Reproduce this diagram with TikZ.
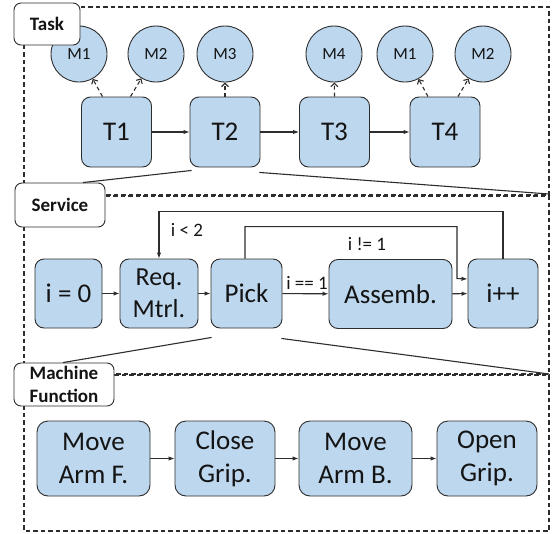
\documentclass[tikz,border=0pt]{standalone}
\usepackage{fontspec}
\setmainfont{Carlito}
\usetikzlibrary{arrows.meta,calc}
\definecolor{boxfill}{RGB}{189,215,238}
\definecolor{boxline}{RGB}{45,45,45}
\definecolor{txt}{RGB}{20,20,20}
\tikzset{
  blk/.style={draw=boxline,fill=boxfill,line width=0.9pt,inner sep=0pt,text=txt,align=center},
  tbox/.style={blk,rounded corners=9pt,minimum width=70pt,minimum height=70pt,font=\fontsize{27}{32}\selectfont},
  sbox/.style={blk,rounded corners=9pt,minimum height=69pt,font=\fontsize{27}{32}\selectfont},
  mbox/.style={blk,rounded corners=11pt,minimum height=75pt,font=\fontsize{27}{33}\selectfont},
  mcirc/.style={blk,circle,minimum size=56pt,font=\fontsize{17}{20}\selectfont},
  lbl/.style={draw=boxline,fill=white,line width=0.9pt,rounded corners=7pt,inner sep=0pt,align=center,text=txt,font=\fontsize{19}{23}\selectfont\bfseries},
  frame/.style={draw=boxline,line width=1.2pt,dash pattern=on 4.5pt off 3pt},
  flow/.style={draw=boxline,line width=1.1pt,-{Latex[length=6pt,width=4.5pt]}},
  dflow/.style={draw=boxline,line width=1.1pt,dash pattern=on 4pt off 3pt,-{Straight Barb[length=3.5pt,width=7pt]}},
  link/.style={draw=boxline,line width=1.1pt},
  elbl/.style={text=txt,font=\fontsize{19}{22}\selectfont,inner sep=0pt}
}
\begin{document}
\begin{tikzpicture}[x=1pt,y=-1pt]
\useasboundingbox (0,0) rectangle (554,533);
% frames
\draw[frame] (24,7) rectangle (549,195);
\draw[frame] (24,196) rectangle (549,374);
\draw[frame] (24,375) rectangle (549,531);
\coordinate (c1) at (549,194);
\coordinate (c2) at (549,374);

% Task level
\node[mcirc] (M1a) at (79,54) {M1};
\node[mcirc] (M2a) at (156,54) {M2};
\node[mcirc] (M3) at (225,54) {M3};
\node[mcirc] (M4) at (334,54) {M4};
\node[mcirc] (M1b) at (405,54) {M1};
\node[mcirc] (M2b) at (483,54) {M2};
\node[tbox] (T1) at (116.5,132) {T1};
\node[tbox] (T2) at (225,132) {T2};
\node[tbox] (T3) at (334.5,132) {T3};
\node[tbox] (T4) at (445,132) {T4};
\draw[flow] (T1) -- (T2);
\draw[flow] (T2) -- (T3);
\draw[flow] (T3) -- (T4);
\draw[dflow] ([xshift=-14pt]T1.north) -- (M1a);
\draw[dflow] ([xshift=14pt]T1.north) -- (M2a);
\draw[dflow] (T2.north) -- (M3);
\draw[dflow] (T3.north) -- (M4);
\draw[dflow] ([xshift=-17pt]T4.north) -- (M1b);
\draw[dflow] ([xshift=13pt]T4.north) -- (M2b);

% Service level
\node[sbox,minimum width=67pt] (S0) at (68.5,293.5) {i = 0};
\node[sbox,minimum width=78pt,font=\fontsize{26}{32}\selectfont] (Req) at (159,293.5) {Req.\\Mtrl.};
\node[sbox,minimum width=71pt] (Pick) at (246.5,293.5) {Pick};
\node[sbox,minimum width=123pt] (Asm) at (390.5,294) {Assemb.};
\node[sbox,minimum width=70pt] (Inc) at (503,293.5) {i++};
\draw[flow] (S0) -- (Req);
\draw[flow] (Req) -- (Pick);
\draw[flow] (Pick) -- (Asm);
\draw[flow] (Asm) -- (Inc);
\draw[flow] (Inc.north) -- ++(0,-47) -| (Req.north);
\draw[flow] ([xshift=-1.5pt]Pick.north) -- ++(0,-32) -| ++(212,52) -- ([yshift=14.5pt]Inc.west);
\node[elbl] (lt) at (187,230) {i < 2};
\node[elbl] (ne) at (367,244) {i != 1};
\node[elbl] (eq) at (307,283) {i == 1};

% Machine level
\node[mbox,minimum width=113pt] (MA) at (93.5,458.5) {Move\\Arm F.};
\node[mbox,minimum width=100pt] (CG) at (225,458.5) {Close\\Grip.};
\node[mbox,minimum width=113pt] (MB) at (355.5,458.5) {Move\\Arm B.};
\node[mbox,minimum width=100pt] (OG) at (487,458.5) {Open\\Grip.};
\draw[flow] (MA) -- (CG);
\draw[flow] (CG) -- (MB);
\draw[flow] (MB) -- (OG);

% labels
\node[lbl,minimum width=66pt,minimum height=42pt] (LT) at (47,24) {Task};
\node[lbl,minimum width=90pt,minimum height=44pt] (LS) at (60,205) {Service};
\node[lbl,minimum width=100pt,minimum height=43pt] (LM) at (64,384.5) {Machine\\Function};

% zoom links
\draw[link] ([xshift=2pt,yshift=-3pt]T2.south west) -- ([xshift=23pt]LS.north);
\draw[link] ([xshift=-1pt,yshift=-5pt]T2.south east) -- (c1);
\draw[link] ([xshift=1pt,yshift=-9pt]Pick.south west) -- ([xshift=-1pt]LM.north);
\draw[link] ([xshift=-1pt,yshift=-10pt]Pick.south east) -- (c2);
\end{tikzpicture}
\end{document}
